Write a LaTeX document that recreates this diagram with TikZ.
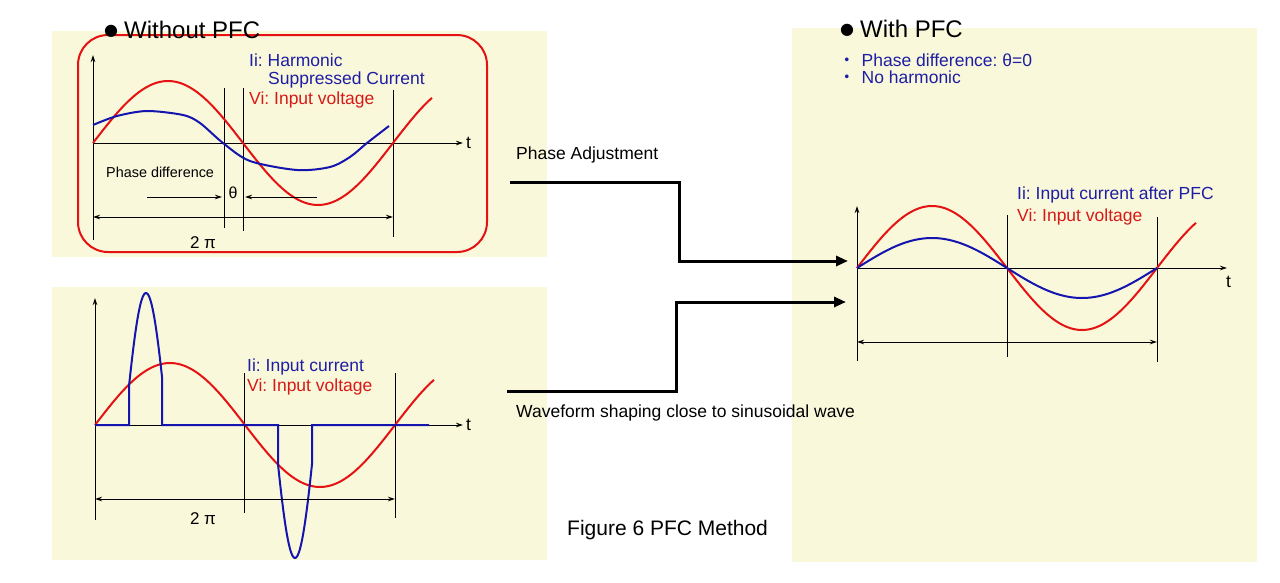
\documentclass[tikz,border=0pt]{standalone}
\usepackage{fontspec}
\setmainfont{Liberation Sans}
\newfontfamily\djv{DejaVu Sans}
\newfontfamily\cjk{Noto Sans CJK JP}
\usetikzlibrary{arrows.meta}
\definecolor{panel}{RGB}{250,248,218}
\definecolor{wred}{RGB}{228,18,18}
\definecolor{wblue}{RGB}{20,20,175}
\definecolor{tblue}{RGB}{30,30,165}
\definecolor{tred}{RGB}{215,25,25}
\newcommand{\bigdot}{\raisebox{3.5pt}{\djv\fontsize{16}{16}\selectfont ●}}
\begin{document}
\frenchspacing
\begin{tikzpicture}[x=1pt,y=-1pt,
  panelbg/.style={fill=panel,draw=none},
  axisline/.style={line width=1pt,-{Stealth[length=7pt,width=4.5pt]}},
  tickline/.style={line width=1pt},
  dimline/.style={line width=1pt,{Stealth[length=7pt,width=4.5pt]}-{Stealth[length=7pt,width=4.5pt]}},
  vcurve/.style={wred,line width=2pt},
  icurve/.style={wblue,line width=2pt},
  lbl/.style={anchor=west,inner sep=0pt,font=\fontsize{17.5}{20}\selectfont},
  title/.style={anchor=west,inner sep=0pt,font=\fontsize{24}{26}\selectfont},
  flow/.style={line width=3pt,-{Triangle[length=12pt,width=10pt]}}]
\useasboundingbox (0,0) rectangle (1280,582);
% panels
\fill[panelbg] (52,31) rectangle (547,257);
\fill[panelbg] (52,287) rectangle (547,560);
\fill[panelbg] (792,28) rectangle (1257,562);

% ---------- top-left: without PFC ----------
\draw[wred,line width=2pt,rounded corners=30pt] (78,35) rectangle (487,252);
\node[title] (t1) at (104,30) {\bigdot\hspace{6pt}Without PFC};
\draw[axisline] (93,240) -- (93,55);
\draw[axisline] (93,143) -- (463,143);
\node[lbl] (ta) at (466,143) {t};
\draw[tickline] (224,88) -- (224,228);
\draw[tickline] (243,88) -- (243,231);
\draw[tickline] (393,90) -- (393,237);
\draw[vcurve] plot[domain=93:432,samples=120] (\x,{143-62*sin(1.2*(\x-93))});
\draw[icurve] plot[smooth] coordinates {(93,125) (117,116) (147,111) (183,115) (200,123) (223,143) (250,161) (297,170) (330,167) (350,157) (367,143) (389,126)};
\node[anchor=west,inner sep=0pt,font=\fontsize{14.4}{16}\selectfont] (pd) at (106,172) {Phase difference};
\coordinate (pa1) at (147,197);
\coordinate (pa2) at (222,197);
\coordinate (pb1) at (317,197);
\coordinate (pb2) at (245,197);
\draw[axisline] (pa1) -- (pa2);
\draw[axisline] (pb1) -- (pb2);
\node[inner sep=0pt,font=\fontsize{16}{18}\selectfont] (th) at (233,193) {θ};
\coordinate (d1a) at (93,217);
\coordinate (d1b) at (393,217);
\draw[dimline] (d1a) -- (d1b);
\node[inner sep=0pt,font=\fontsize{17}{19}\selectfont] (tp1) at (203,243) {2 π};
\node[lbl,text=tblue] (l1) at (249,60) {Ii: Harmonic};
\node[lbl,text=tblue] (l2) at (268,80) {Suppressed Current};
\node[lbl,text=tred] (l3) at (249,100) {Vi: Input voltage};

% ---------- bottom-left ----------
\draw[axisline] (95,520) -- (95,298);
\draw[axisline] (95,425) -- (463,425);
\node[lbl] (tb) at (466,425) {t};
\draw[tickline] (244,373) -- (244,513);
\draw[tickline] (395,373) -- (395,518);
\draw[vcurve] plot[domain=95:434,samples=120] (\x,{425-62*sin(1.2*(\x-95))});
\draw[icurve] (95,425) -- (129,425) -- plot[domain=129:162,samples=40] (\x,{425-132*cos(90*(\x-146)/21)}) -- (162,425) -- (278,425) -- plot[domain=278:312,samples=40] (\x,{425+133*cos(90*(\x-295)/21)}) -- (312,425) -- (429,425);
\coordinate (d2a) at (95,499);
\coordinate (d2b) at (395,499);
\draw[dimline] (d2a) -- (d2b);
\node[inner sep=0pt,font=\fontsize{17}{19}\selectfont] (tp2) at (203,519) {2 π};
\node[lbl,text=tblue] (l4) at (247,367) {Ii: Input current};
\node[lbl,text=tred] (l5) at (247,387) {Vi: Input voltage};

% ---------- middle ----------
\node[lbl] (pa) at (516,155) {Phase Adjustment};
\node[lbl] (ws) at (516,413) {Waveform shaping close to sinusoidal wave};
\coordinate (fa1) at (510,182);
\coordinate (fa2) at (848,261);
\coordinate (fb1) at (507,391);
\coordinate (fb2) at (846,302);
\draw[flow] (fa1) -- ++(169,0) |- (fa2);
\draw[flow] (fb1) -- ++(169,0) |- (fb2);
\node[anchor=west,inner sep=0pt,font=\fontsize{21}{23}\selectfont] (fig) at (567,530) {Figure 6 PFC Method};

% ---------- right: with PFC ----------
\node[title] (t2) at (840,29) {\bigdot\hspace{6pt}With PFC};
\node[lbl,text=tblue] (b1) at (838,60) {{\cjk ・}\hspace{6pt}Phase difference: θ=0};
\node[lbl,text=tblue] (b2) at (838,77) {{\cjk ・}\hspace{6pt}No harmonic};
\draw[axisline] (857,361) -- (857,206);
\draw[axisline] (857,268) -- (1227,268);
\node[lbl] (tc) at (1226,282) {t};
\draw[tickline] (1007,215) -- (1007,357);
\draw[tickline] (1157,217) -- (1157,362);
\draw[vcurve] plot[domain=857:1196,samples=120] (\x,{268-62*sin(1.2*(\x-857))});
\draw[icurve] plot[domain=857:1157,samples=120] (\x,{268-30*sin(1.2*(\x-857))});
\coordinate (d3a) at (857,342);
\coordinate (d3b) at (1157,342);
\draw[dimline] (d3a) -- (d3b);
\node[lbl,text=tblue] (l6) at (1017,195) {Ii: Input current after PFC};
\node[lbl,text=tred] (l7) at (1017,217) {Vi: Input voltage};
\end{tikzpicture}
\end{document}
